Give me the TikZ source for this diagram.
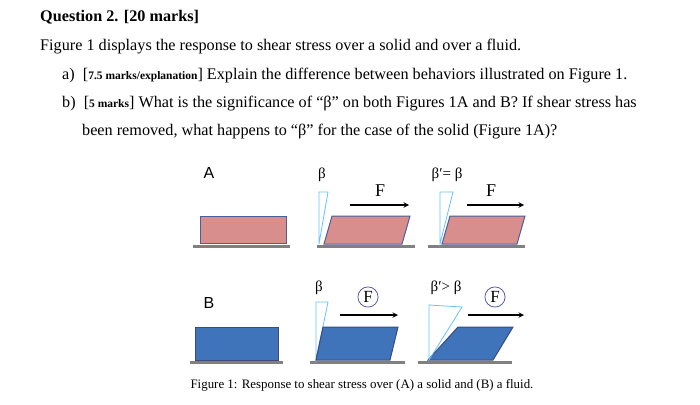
\documentclass[tikz,border=0pt]{standalone}
\usepackage{fontspec}
\setmainfont{Liberation Serif}
\newfontfamily\lsans{Liberation Sans}
\definecolor{pinkfill}{HTML}{D98E8E}
\definecolor{bluefill}{HTML}{3F73BA}
\definecolor{edgeblue}{HTML}{4A5E9A}
\newcommand{\sm}[1]{{\bfseries\fontsize{11.5}{12}\selectfont #1}}
\begin{document}
\begin{tikzpicture}[x=1pt,y=-1pt,
  txt/.style={anchor=base west,inner sep=0pt,font=\fontsize{16.2}{18}\selectfont},
  ground/.style={line width=3pt,draw=black!50},
  solid/.style={fill=pinkfill,draw=edgeblue,line width=1pt},
  fluid/.style={fill=bluefill,draw=edgeblue!80!black,line width=1pt},
  tri/.style={draw=blue!40!cyan!60,line width=0.8pt,fill=white},
  farr/.style={-stealth,line width=1.4pt},
  lab/.style={inner sep=0pt,font=\fontsize{15}{16}\selectfont},
  circ/.style={circle,draw=blue!30!gray,line width=0.8pt,inner sep=2pt,font=\fontsize{17}{18}\selectfont}]
\useasboundingbox (0,0) rectangle (700,404);
\fill[white] (0,0) rectangle (700,404);
\node[txt] (t1) at (40,22) {\bfseries Question 2. [20 marks]};
\node[txt] (t2) at (40,51) {Figure 1 displays the response to shear stress over a solid and over a fluid.};
\node[txt] (t3) at (62,79) {a)\enspace[\sm{7.5 marks/explanation}] Explain the difference between behaviors illustrated on Figure 1.};
\node[txt] (t4) at (62,107) {b)\enspace[\sm{5 marks}] What is the significance of “β” on both Figures 1A and B? If shear stress has};
\node[txt] (t5) at (82,135) {been removed, what happens to “β” for the case of the solid (Figure 1A)?};
% row A
\node[lab,font=\lsans\fontsize{16}{17}\selectfont] (A) at (209,173) {A};
\draw[ground] (193,246) -- (290,246);
\draw[solid] (200,216) rectangle (286,243);
\draw[ground] (317,246) -- (415,246);
\draw[tri] (319,244) -- (319,192) -- (328,192) -- cycle;
\draw[solid] (324,244) -- (332,216) -- (410,216) -- (402,244) -- cycle;
\node[lab] (b1) at (322,175) {β};
\node[lab,font=\fontsize{18}{19}\selectfont] (F1) at (380,191) {F};
\coordinate (a1s) at (350,205); \coordinate (a1e) at (409,205);
\draw[farr] (a1s) -- (a1e);
\draw[ground] (428,246) -- (525,246);
\draw[tri] (440,244) -- (440,192) -- (453,192) -- cycle;
\draw[solid] (442,244) -- (450,216) -- (525,216) -- (517,244) -- cycle;
\node[lab] (b2) at (447,175) {β′= β};
\node[lab,font=\fontsize{18}{19}\selectfont] (F2) at (491,191) {F};
\coordinate (a2s) at (467,205); \coordinate (a2e) at (524,205);
\draw[farr] (a2s) -- (a2e);
% row B
\node[lab,font=\lsans\fontsize{16}{17}\selectfont] (B) at (209,303) {B};
\draw[ground] (190,362) -- (283,362);
\draw[fluid] (195,327) rectangle (278,360);
\draw[ground] (310,362) -- (405,362);
\draw[tri] (316,360) -- (316,302) -- (328,302) -- cycle;
\draw[fluid] (316,360) -- (323,327) -- (398,327) -- (390,360) -- cycle;
\node[lab] (b3) at (319,288) {β};
\node[circ] (F3) at (368,297) {F};
\coordinate (a3s) at (340,315); \coordinate (a3e) at (398,315);
\draw[farr] (a3s) -- (a3e);
\draw[ground] (418,362) -- (512,362);
\draw[fluid] (428,360) -- (458,327) -- (513,327) -- (493,360) -- cycle;
\draw[tri,fill=none] (429,360) -- (429,305) -- (462,307) -- cycle;
\node[lab] (b4) at (446,288) {β′> β};
\node[circ] (F4) at (495,297) {F};
\coordinate (a4s) at (468,315); \coordinate (a4e) at (524,315);
\draw[farr] (a4s) -- (a4e);
\node[inner sep=0pt,anchor=base,font=\fontsize{12.9}{14}\selectfont] (cap) at (362,388) {Figure 1: Response to shear stress over (A) a solid and (B) a fluid.};
\end{tikzpicture}
\end{document}
